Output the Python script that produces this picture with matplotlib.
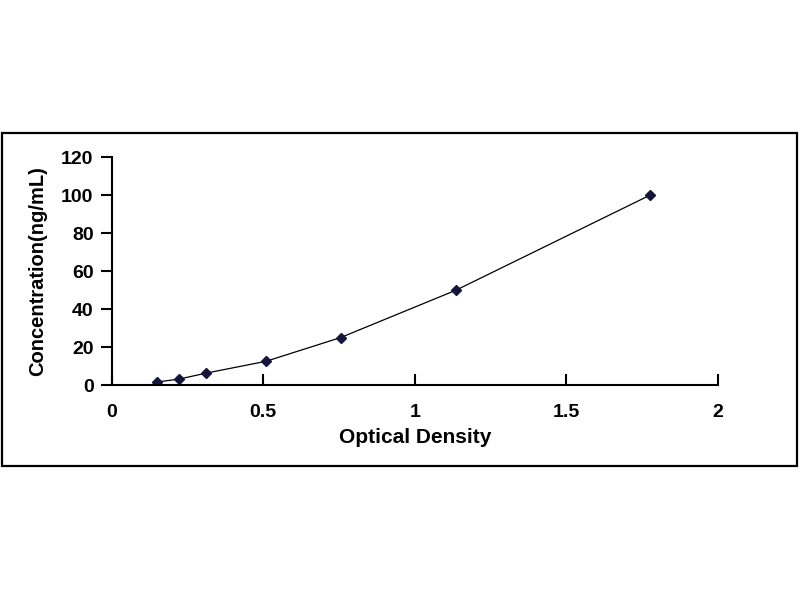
import matplotlib
matplotlib.use("Agg")
import matplotlib.pyplot as plt
from matplotlib.patches import Rectangle

# Standard curve data
optical_density = [0.148, 0.222, 0.311, 0.509, 0.755, 1.136, 1.775]
concentration = [1.56, 3.12, 6.25, 12.5, 25, 50, 100]

x_ticks = [0, 0.5, 1, 1.5, 2]
x_tick_labels = ["0", "0.5", "1", "1.5", "2"]
y_ticks = [0, 20, 40, 60, 80, 100, 120]

plt.rcParams['font.family'] = ['Liberation Sans', 'DejaVu Sans']
plt.rcParams['font.weight'] = 'bold'

fig = plt.figure(figsize=(8, 6), dpi=100)
fig.patches.append(Rectangle((2 / 800, 134 / 600), 795 / 800, 333 / 600,
                             transform=fig.transFigure, fill=False,
                             edgecolor='black', linewidth=1.6))

ax = fig.add_axes([0.1396, 0.3583, 0.7579, 0.3795])
ax.plot(optical_density, concentration, color='black', linewidth=0.9,
        marker='D', markersize=5, markerfacecolor='#14143c',
        markeredgecolor='#14143c')

ax.set_xlim(0, 2)
ax.set_ylim(0, 120)
ax.set_xticks(x_ticks)
ax.set_xticklabels(x_tick_labels)
ax.set_yticks(y_ticks)

for side in ['top', 'right']:
    ax.spines[side].set_visible(False)
for side in ['left', 'bottom']:
    ax.spines[side].set_linewidth(1.5)

ax.tick_params(axis='x', direction='in', length=8, width=1.5, pad=14, labelsize=14)
ax.tick_params(axis='y', direction='out', length=8, width=1.5, pad=5, labelsize=14)

ax.set_xlabel('Optical Density', fontsize=15, fontweight='bold', labelpad=5)
ax.set_ylabel('Concentration(ng/mL)', fontsize=14.5, fontweight='bold', labelpad=10)

fig.savefig('out.png', dpi=100)
